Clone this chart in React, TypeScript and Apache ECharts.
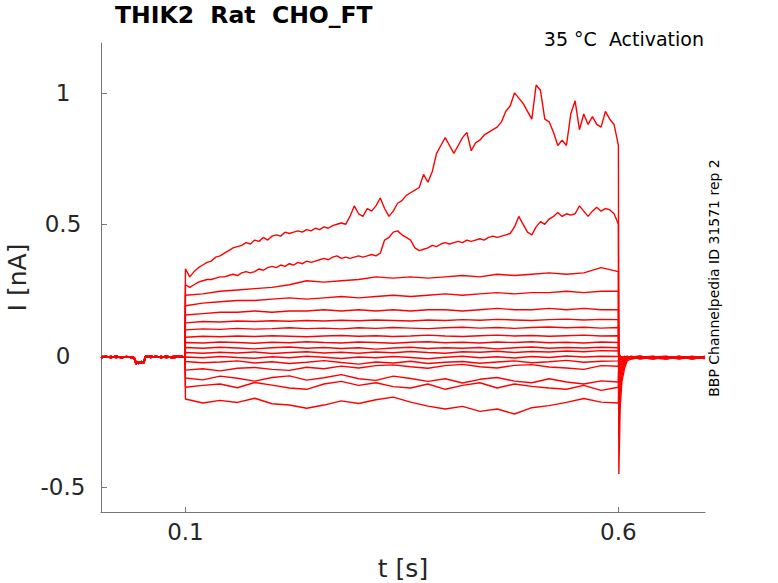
import React, { useEffect, useRef } from 'react';
import * as echarts from 'echarts';

// axis ticks
const X_TICKS = [0.1, 0.6];
const Y_TICKS = [-0.5, 0, 0.5, 1];

// holding period before the step (s, nA)
const baseTimes = [0.0025, 0.008, 0.014, 0.02, 0.026, 0.032, 0.038, 0.041, 0.043, 0.046, 0.049, 0.052, 0.054, 0.06, 0.066, 0.072, 0.078, 0.084, 0.09, 0.095, 0.0995];
const baseA = [-0.004, -0.006, -0.003, -0.007, -0.004, -0.006, -0.005, -0.008, -0.025, -0.03, -0.022, -0.028, -0.004, -0.002, -0.006, -0.003, -0.007, -0.004, -0.002, -0.006, -0.004];
const baseB = [-0.009, -0.002, -0.008, -0.001, -0.009, -0.003, -0.008, -0.012, -0.032, -0.022, -0.03, -0.02, -0.001, -0.007, -0.002, -0.008, -0.001, -0.008, -0.006, -0.001, -0.008];

// step from 0.1 to 0.6 s; the two largest sweeps are read every 5 ms, the rest every 20 ms
const FINE_DT = 0.005;
const COARSE_DT = 0.02;

const sweep1 = [
  0.33, 0.30, 0.32, 0.335, 0.345, 0.355, 0.36, 0.375, 0.38, 0.39,
  0.40, 0.41, 0.415, 0.42, 0.43, 0.425, 0.44, 0.435, 0.45, 0.44,
  0.455, 0.46, 0.455, 0.47, 0.465, 0.47, 0.475, 0.47, 0.48, 0.475,
  0.485, 0.48, 0.49, 0.485, 0.495, 0.50, 0.505, 0.50, 0.53, 0.57,
  0.54, 0.53, 0.56, 0.55, 0.57, 0.60, 0.56, 0.53, 0.55, 0.58,
  0.59, 0.61, 0.62, 0.63, 0.64, 0.69, 0.66, 0.70, 0.77, 0.80,
  0.83, 0.80, 0.77, 0.80, 0.83, 0.85, 0.78, 0.81, 0.82, 0.84,
  0.85, 0.86, 0.87, 0.89, 0.93, 0.95, 1.00, 0.98, 0.96, 0.93,
  0.90, 1.03, 1.01, 0.90, 0.89, 0.85, 0.80, 0.82, 0.80, 0.92,
  0.97, 0.86, 0.92, 0.88, 0.91, 0.88, 0.87, 0.93, 0.90, 0.88,
  0.80,
];
const sweep2 = [
  0.27, 0.26, 0.27, 0.28, 0.285, 0.29, 0.29, 0.295, 0.30, 0.30,
  0.305, 0.31, 0.305, 0.315, 0.32, 0.315, 0.32, 0.33, 0.325, 0.335,
  0.34, 0.335, 0.345, 0.34, 0.35, 0.345, 0.355, 0.35, 0.36, 0.355,
  0.36, 0.365, 0.37, 0.365, 0.375, 0.38, 0.37, 0.375, 0.37, 0.375,
  0.38, 0.375, 0.38, 0.385, 0.38, 0.39, 0.44, 0.45, 0.47, 0.475,
  0.46, 0.45, 0.44, 0.41, 0.40, 0.405, 0.41, 0.42, 0.415, 0.425,
  0.43, 0.425, 0.43, 0.435, 0.43, 0.44, 0.435, 0.44, 0.445, 0.44,
  0.45, 0.455, 0.45, 0.455, 0.46, 0.465, 0.49, 0.53, 0.50, 0.47,
  0.46, 0.49, 0.51, 0.50, 0.52, 0.53, 0.545, 0.53, 0.54, 0.535,
  0.54, 0.57, 0.55, 0.53, 0.55, 0.565, 0.55, 0.56, 0.555, 0.54,
  0.50,
];
const sweep3 = [0.23, 0.235, 0.245, 0.25, 0.255, 0.26, 0.27, 0.285, 0.28, 0.285, 0.29, 0.30, 0.295, 0.30, 0.295, 0.30, 0.305, 0.30, 0.31, 0.305, 0.31, 0.315, 0.31, 0.315, 0.335, 0.32];
const sweep4 = [0.19, 0.2, 0.205, 0.21, 0.21, 0.215, 0.22, 0.215, 0.22, 0.225, 0.22, 0.225, 0.23, 0.225, 0.23, 0.235, 0.23, 0.235, 0.24, 0.235, 0.24, 0.24, 0.245, 0.24, 0.245, 0.245];
const sweep5 = [0.155, 0.16, 0.165, 0.165, 0.17, 0.165, 0.17, 0.17, 0.175, 0.17, 0.175, 0.17, 0.175, 0.17, 0.175, 0.175, 0.17, 0.175, 0.18, 0.175, 0.175, 0.18, 0.175, 0.18, 0.175, 0.175];
const sweep6 = [0.125, 0.13, 0.128, 0.132, 0.13, 0.133, 0.131, 0.134, 0.132, 0.135, 0.133, 0.136, 0.134, 0.132, 0.136, 0.134, 0.137, 0.135, 0.138, 0.136, 0.134, 0.137, 0.139, 0.136, 0.138, 0.137];
const sweep7 = [0.098, 0.102, 0.1, 0.104, 0.101, 0.103, 0.106, 0.103, 0.105, 0.102, 0.106, 0.104, 0.107, 0.105, 0.103, 0.106, 0.108, 0.105, 0.107, 0.104, 0.107, 0.109, 0.106, 0.108, 0.105, 0.107];
const sweep8 = [0.07, 0.074, 0.072, 0.075, 0.073, 0.076, 0.074, 0.072, 0.075, 0.077, 0.074, 0.076, 0.073, 0.075, 0.078, 0.075, 0.073, 0.076, 0.078, 0.075, 0.077, 0.074, 0.076, 0.078, 0.075, 0.076];
const sweep9 = [0.05, 0.048, 0.052, 0.05, 0.047, 0.051, 0.049, 0.053, 0.05, 0.048, 0.052, 0.05, 0.047, 0.051, 0.053, 0.049, 0.051, 0.048, 0.052, 0.05, 0.053, 0.049, 0.051, 0.048, 0.052, 0.05];
const sweep10 = [0.031, 0.028, 0.032, 0.029, 0.026, 0.03, 0.033, 0.028, 0.031, 0.027, 0.03, 0.025, 0.029, 0.032, 0.027, 0.03, 0.028, 0.031, 0.026, 0.03, 0.033, 0.028, 0.031, 0.029, 0.032, 0.03];
const sweep11 = [0.012, 0.009, 0.013, 0.01, 0.014, 0.008, 0.012, 0.015, 0.01, 0.013, 0.009, 0.014, 0.011, 0.016, 0.012, 0.009, 0.015, 0.013, 0.017, 0.012, 0.016, 0.014, 0.018, 0.015, 0.019, 0.018];
const sweep12 = [-0.005, -0.008, -0.003, -0.007, -0.01, -0.004, -0.008, -0.002, -0.006, -0.011, -0.005, -0.008, -0.003, -0.007, -0.012, -0.006, -0.002, -0.008, -0.004, -0.009, -0.003, -0.007, -0.001, -0.005, -0.002, -0.003];
const sweep13 = [-0.022, -0.027, -0.024, -0.02, -0.028, -0.023, -0.03, -0.025, -0.019, -0.026, -0.032, -0.024, -0.028, -0.021, -0.03, -0.025, -0.022, -0.029, -0.024, -0.02, -0.027, -0.023, -0.018, -0.025, -0.021, -0.02];
const sweep14 = [-0.055, -0.05, -0.058, -0.048, -0.045, -0.052, -0.056, -0.044, -0.05, -0.04, -0.047, -0.038, -0.035, -0.042, -0.048, -0.038, -0.033, -0.042, -0.047, -0.037, -0.034, -0.043, -0.047, -0.052, -0.038, -0.04];
const sweep15 = [-0.085, -0.092, -0.078, -0.086, -0.097, -0.083, -0.077, -0.093, -0.084, -0.072, -0.088, -0.094, -0.078, -0.087, -0.098, -0.088, -0.104, -0.09, -0.083, -0.097, -0.103, -0.088, -0.1, -0.108, -0.096, -0.1];
const sweep16 = [-0.12, -0.113, -0.108, -0.122, -0.102, -0.112, -0.123, -0.128, -0.108, -0.098, -0.113, -0.103, -0.118, -0.123, -0.108, -0.128, -0.113, -0.103, -0.123, -0.108, -0.117, -0.123, -0.128, -0.113, -0.132, -0.12];
const sweep17 = [-0.165, -0.18, -0.17, -0.178, -0.162, -0.183, -0.188, -0.2, -0.188, -0.172, -0.182, -0.168, -0.158, -0.177, -0.192, -0.203, -0.193, -0.212, -0.203, -0.222, -0.198, -0.19, -0.178, -0.163, -0.177, -0.18];

// after the step: tail currents
const tailTimes = [0.6005, 0.602, 0.604, 0.607, 0.61, 0.615, 0.625, 0.64, 0.655, 0.67, 0.685, 0.7];
const tails = [
  [-0.45, -0.2, -0.1, -0.05, -0.02, -0.012, -0.008, -0.012, -0.006, -0.01, -0.005, -0.009],
  [-0.3, -0.15, -0.08, -0.035, -0.015, -0.005, -0.01, -0.004, -0.012, -0.006, -0.011, -0.004],
  [-0.2, -0.12, -0.06, -0.025, -0.01, -0.008, -0.003, -0.01, -0.005, -0.012, -0.004, -0.008],
  [-0.15, -0.1, -0.05, -0.02, -0.012, -0.004, -0.011, -0.005, -0.009, -0.003, -0.01, -0.005],
  [-0.1, -0.07, -0.035, -0.015, -0.006, -0.01, -0.005, -0.012, -0.004, -0.009, -0.006, -0.011],
  [-0.07, -0.05, -0.025, -0.01, -0.008, -0.003, -0.009, -0.006, -0.01, -0.004, -0.012, -0.006],
  [-0.05, -0.035, -0.02, -0.008, -0.004, -0.009, -0.003, -0.008, -0.012, -0.005, -0.01, -0.006],
  [-0.03, -0.025, -0.012, -0.006, -0.01, -0.004, -0.012, -0.007, -0.003, -0.011, -0.005, -0.009],
  [-0.02, -0.015, -0.01, -0.004, -0.011, -0.006, -0.002, -0.009, -0.013, -0.004, -0.008, -0.003],
  [-0.015, -0.01, -0.005, -0.012, -0.003, -0.009, -0.006, -0.013, -0.004, -0.01, -0.002, -0.01],
  [-0.01, -0.006, -0.012, -0.003, -0.008, -0.011, -0.004, -0.007, -0.01, -0.002, -0.009, -0.005],
  [-0.008, -0.003, -0.01, -0.006, -0.002, -0.012, -0.007, -0.003, -0.011, -0.006, -0.004, -0.01],
  [-0.006, -0.011, -0.004, -0.009, -0.013, -0.005, -0.002, -0.01, -0.006, -0.012, -0.007, -0.003],
  [0.0, -0.008, -0.012, -0.004, -0.009, -0.002, -0.011, -0.005, -0.008, -0.003, -0.012, -0.006],
  [0.004, -0.005, -0.01, -0.002, -0.012, -0.006, -0.003, -0.01, -0.004, -0.009, -0.005, -0.011],
  [0.006, -0.002, -0.008, -0.012, -0.004, -0.01, -0.006, -0.002, -0.01, -0.005, -0.013, -0.004],
  [0.008, 0.0, -0.006, -0.01, -0.003, -0.008, -0.012, -0.005, -0.002, -0.011, -0.006, -0.01],
];

const sweeps = [
  sweep1, sweep2, sweep3, sweep4, sweep5, sweep6, sweep7, sweep8, sweep9,
  sweep10, sweep11, sweep12, sweep13, sweep14, sweep15, sweep16, sweep17,
];

const FONT = '"DejaVu Sans", Verdana, sans-serif';
const AXIS_GRAY = '#767676';
const LABEL_GRAY = '#262626';

function buildSweep(k: number): [number, number][] {
  const vals = sweeps[k];
  const dt = vals.length > 30 ? FINE_DT : COARSE_DT;
  const base = k % 2 === 0 ? baseA : baseB;
  const pts: [number, number][] = [];
  baseTimes.forEach((t, i) => pts.push([t, base[i]]));
  vals.forEach((v, i) => pts.push([+(0.1 + i * dt).toFixed(4), v]));
  tailTimes.forEach((t, i) => pts.push([t, tails[k][i]]));
  return pts;
}

export default function App() {
  const chartRef = useRef<HTMLDivElement>(null);

  useEffect(() => {
    document.body.style.margin = '0';
    if (!chartRef.current) return;
    const chart = echarts.init(chartRef.current, null, { renderer: 'svg' });

    chart.setOption({
      animation: false,
      backgroundColor: '#ffffff',
      textStyle: { fontFamily: FONT },
      grid: { left: 101, top: 43, width: 604, height: 469, containLabel: false, outerBoundsMode: 'none' },
      xAxis: {
        type: 'value',
        min: 0.0025,
        max: 0.7,
        name: 't [s]',
        nameLocation: 'middle',
        nameGap: 44,
        nameTextStyle: { color: LABEL_GRAY, fontSize: 25, fontFamily: FONT },
        axisLine: { onZero: false, lineStyle: { color: AXIS_GRAY, width: 1 } },
        axisTick: { inside: true, length: 5, customValues: X_TICKS, lineStyle: { color: AXIS_GRAY } },
        axisLabel: { customValues: X_TICKS, color: LABEL_GRAY, fontSize: 23, margin: 8, fontFamily: FONT, formatter: (v: number) => String(v) },
        splitLine: { show: false },
      },
      yAxis: {
        type: 'value',
        min: -0.595,
        max: 1.19,
        name: 'I [nA]',
        nameLocation: 'middle',
        nameGap: 62,
        nameTextStyle: { color: LABEL_GRAY, fontSize: 25, fontFamily: FONT },
        axisLine: { show: true, onZero: false, lineStyle: { color: AXIS_GRAY, width: 1 } },
        axisTick: { show: true, inside: true, length: 6, customValues: Y_TICKS, lineStyle: { color: AXIS_GRAY } },
        axisLabel: { customValues: Y_TICKS, color: LABEL_GRAY, fontSize: 23, margin: 38, align: 'center', fontFamily: FONT, formatter: (v: number) => String(v) },
        splitLine: { show: false },
      },
      graphic: [
        {
          type: 'text',
          left: 115,
          top: 3,
          style: { text: 'THIK2  Rat  CHO_FT', font: `bold 23.5px ${FONT}`, fill: '#000000' },
        },
        {
          type: 'text',
          right: 74,
          top: 29,
          style: { text: '35 °C  Activation', font: `19px ${FONT}`, fill: '#000000' },
        },
        {
          type: 'text',
          x: 714,
          y: 278,
          rotation: Math.PI / 2,
          style: {
            text: 'BBP Channelpedia ID 31571 rep 2',
            font: `14px ${FONT}`,
            fill: '#000000',
            align: 'center',
            verticalAlign: 'middle',
          },
        },
      ],
      series: sweeps.map((_, k) => ({
        type: 'line',
        data: buildSweep(k),
        showSymbol: false,
        symbol: 'none',
        smooth: false,
        silent: true,
        lineStyle: { color: '#ff0000', width: 1.4 },
      })),
    });

    return () => chart.dispose();
  }, []);

  return <div ref={chartRef} style={{ width: 778, height: 583 }} />;
}
